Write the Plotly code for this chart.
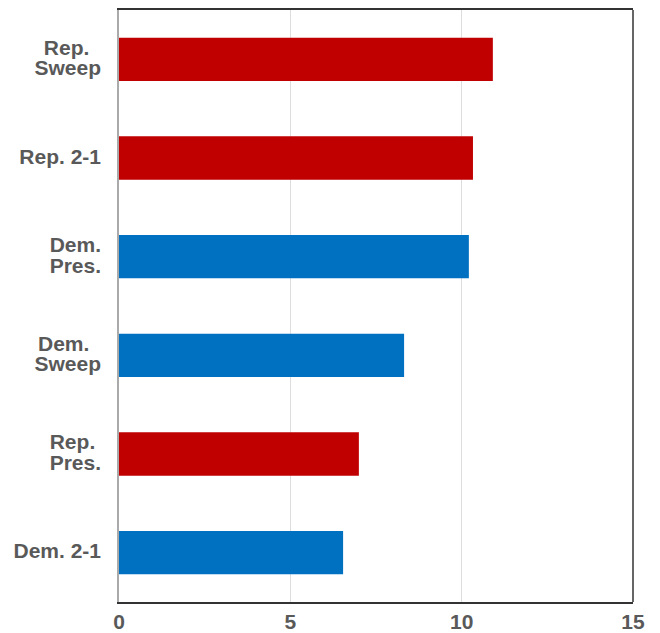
import plotly.graph_objects as go

categories = ["Dem. 2-1", "Rep. Pres.", "Dem. Sweep", "Dem. Pres.", "Rep. 2-1", "Rep. Sweep"]
tick_labels = ["Dem. 2-1", "Rep.&nbsp;<br>Pres.", "Dem.&nbsp;&nbsp;<br>Sweep",
               "Dem.<br>Pres.", "Rep. 2-1", "Rep.&nbsp;&nbsp;<br>Sweep"]
values = [6.54, 7.0, 8.32, 10.21, 10.33, 10.91]
party = ["Dem", "Rep", "Dem", "Dem", "Rep", "Rep"]
party_colors = {"Dem": "#0070C0", "Rep": "#C00000"}
x_ticks = [0, 5, 10, 15]

big = '<span style="font-size:21px">{}</span>'
labels_html = [big.format(t) for t in tick_labels]

fig = go.Figure(go.Bar(
    x=values, y=categories, orientation="h",
    marker=dict(color=[party_colors[p] for p in party], line=dict(width=0)),
    width=0.44,
))

# page body has an 8px margin, so the figure is sized/offset to compensate
fig.update_layout(
    width=652, height=625,
    margin=dict(l=111, r=27, t=2, b=31),
    plot_bgcolor="white", paper_bgcolor="white",
    showlegend=False,
    font=dict(family="Liberation Sans, Arial, sans-serif", color="#595959"),
)
fig.update_xaxes(
    range=[0, 15], tickvals=x_ticks, ticktext=[f"<b>{v}</b>" for v in x_ticks],
    tickfont=dict(size=21, color="#595959"),
    showgrid=True, gridcolor="#dddddd", gridwidth=1,
    showline=True, linecolor="#333333", linewidth=1.5, mirror=True,
    zeroline=False, ticks="", ticklabelstandoff=0, automargin=False,
)
fig.update_yaxes(
    tickvals=categories, ticktext=["<b>" + t + "</b>" for t in labels_html],
    tickfont=dict(size=16, color="#595959"),
    showline=True, linecolor="#aaaaaa", linewidth=1.5,
    showgrid=False, ticks="", ticklabelstandoff=13, automargin=False,
    range=[-0.5, 5.5],
)
fig.add_shape(type="line", xref="x domain", yref="y domain", x0=1, x1=1, y0=0, y1=1,
              line=dict(color="#333333", width=1.5))

fig.write_html("out.html")
